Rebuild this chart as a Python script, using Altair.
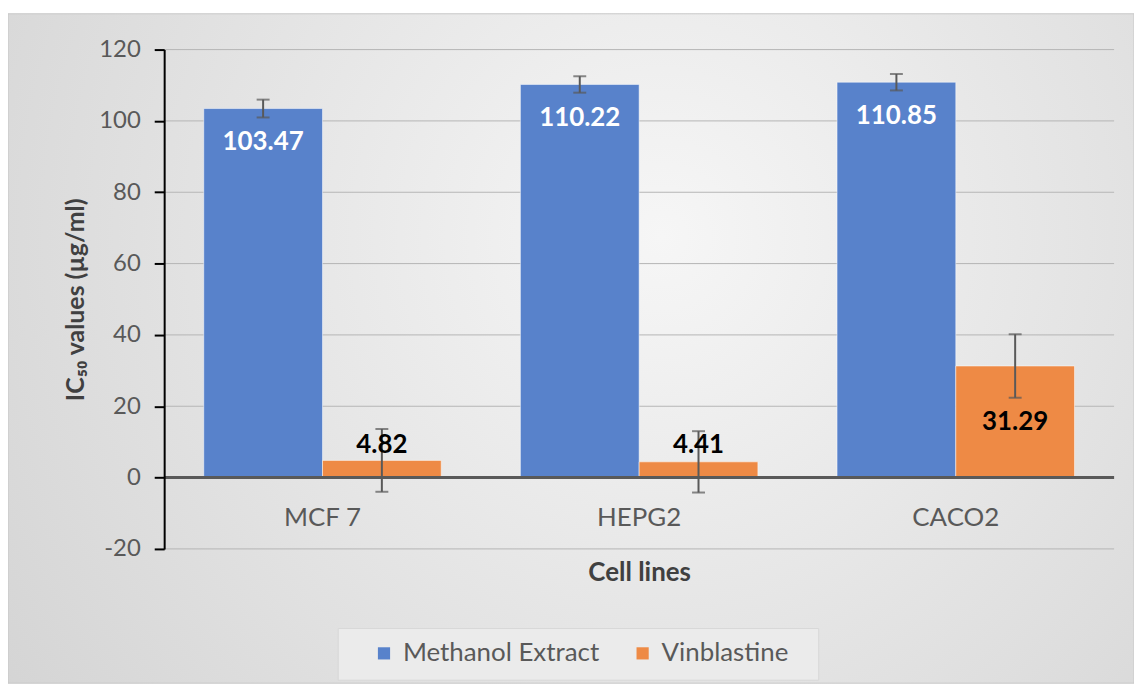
import altair as alt
import pandas as pd

cells = ["MCF 7", "HEPG2", "CACO2"]
series = ["Methanol Extract", "Vinblastine"]
methanol = [103.47, 110.22, 110.85]
methanol_err = [2.5, 2.3, 2.3]
vinblastine = [4.82, 4.41, 31.29]
vinblastine_err = [8.8, 8.6, 8.9]
y_ticks = [-20, 0, 20, 40, 60, 80, 100, 120]

colors = ["#5882CB", "#EE8A45"]

rows = []
for i, c in enumerate(cells):
    rows.append({"cell": c, "series": series[0], "value": methanol[i], "err": methanol_err[i]})
    rows.append({"cell": c, "series": series[1], "value": vinblastine[i], "err": vinblastine_err[i]})
df = pd.DataFrame(rows)
cell_df = pd.DataFrame({"cell": cells})
tick_df = pd.DataFrame({"tick": [t for t in y_ticks if t != 0]})
one = pd.DataFrame({"a": [0]})

W, H = 955, 502
PAD = {"left": 157, "top": 40, "right": 20, "bottom": 135}
FONT = "Lato"
GRAY = "#595959"

x_enc = alt.X(
    "cell:N", sort=cells,
    scale=alt.Scale(paddingInner=0.25, paddingOuter=0.125),
    axis=alt.Axis(labels=False, ticks=False, domain=False, grid=False, zindex=2,
                  title="Cell lines", titleFontSize=26, titleFontWeight="bold",
                  titleColor="#404040", titlePadding=11, titleFont=FONT),
)
xo_enc = alt.XOffset("series:N", sort=series, scale=alt.Scale(paddingInner=0, paddingOuter=0))
y_scale = alt.Scale(domain=[-20, 120], nice=False, zero=False)

bg = alt.Chart(one).mark_rect(
    fill=alt.RadialGradient(
        gradient="radial",
        stops=[alt.GradientStop(offset=0, color="#f6f6f6"),
               alt.GradientStop(offset=1, color="#d0d0d0")],
        x1=0.58, y1=0.4, r1=0, x2=0.58, y2=0.4, r2=0.8),
    stroke="#c8c8c8", strokeWidth=1,
).encode(x=alt.value(-157), x2=alt.value(W + 20), y=alt.value(-36), y2=alt.value(H + 135))

legend_box = alt.Chart(one).mark_rect(fill="#ebebeb", stroke="#d8d8d8", strokeWidth=1).encode(
    x=alt.value(175), x2=alt.value(658), y=alt.value(582), y2=alt.value(634))

grid = alt.Chart(tick_df).mark_rule(color="#b5b5b5", strokeWidth=1).encode(
    y=alt.Y("tick:Q", scale=y_scale))

base = alt.Chart(df)

bars = base.mark_bar(stroke="#ffffff", strokeWidth=1, strokeOpacity=0.5).encode(
    x=x_enc,
    xOffset=xo_enc,
    y=alt.Y("value:Q", scale=y_scale,
            axis=alt.Axis(values=y_ticks, title="IC₅₀ values (µg/ml)", zindex=2,
                          labelExpr="replace(datum.label, '\u2212', '-')",
                          titleFontSize=25, titleFontWeight="bold", titleColor="#404040",
                          titleFont=FONT, titlePadding=10,
                          labelFontSize=24, labelColor=GRAY, labelFont=FONT, labelPadding=14,
                          tickSize=10, tickColor="#000000", tickWidth=2,
                          domainColor="#000000", domainWidth=2, grid=False)),
    y2=alt.datum(0),
    color=alt.Color("series:N", sort=series,
                    scale=alt.Scale(domain=series, range=colors),
                    legend=alt.Legend(orient="none", legendX=208, legendY=594,
                                      direction="horizontal", title=None,
                                      labelFontSize=26, labelColor=GRAY, labelFont=FONT,
                                      labelLimit=400,
                                      symbolType="square", symbolSize=150,
                                      symbolStrokeWidth=0, columnPadding=30,
                                      labelOffset=6, padding=0)),
)

zero_line = alt.Chart(one).mark_rule(color=GRAY, strokeWidth=3).encode(y=alt.datum(0))

err_rule = base.transform_calculate(
    lo="datum.value - datum.err", hi="datum.value + datum.err"
).mark_rule(color=GRAY, strokeWidth=2).encode(
    x=x_enc, xOffset=xo_enc, y=alt.Y("lo:Q", scale=y_scale), y2="hi:Q")

err_top = base.transform_calculate(hi="datum.value + datum.err").mark_tick(
    color=GRAY, thickness=2, size=13).encode(
    x=x_enc, xOffset=xo_enc, y=alt.Y("hi:Q", scale=y_scale))
err_bot = base.transform_calculate(lo="datum.value - datum.err").mark_tick(
    color=GRAY, thickness=2, size=13).encode(
    x=x_enc, xOffset=xo_enc, y=alt.Y("lo:Q", scale=y_scale))

lbl_blue = base.transform_filter(alt.datum.series == series[0]).mark_text(
    color="white", fontWeight="bold", fontSize=26, font=FONT, dy=34, baseline="middle"
).encode(x=x_enc, xOffset=xo_enc, y=alt.Y("value:Q", scale=y_scale),
         text=alt.Text("value:Q", format=".2f"))

lbl_orange = base.transform_filter(alt.datum.series == series[1]).transform_calculate(
    ypos="datum.value < 10 ? 9 : datum.value / 2"
).mark_text(color="black", fontWeight="bold", fontSize=26, font=FONT, baseline="middle"
).encode(x=x_enc, xOffset=xo_enc, y=alt.Y("ypos:Q", scale=y_scale),
         text=alt.Text("value:Q", format=".2f"))

cat_labels = alt.Chart(cell_df).mark_text(
    color=GRAY, fontSize=26, font=FONT, baseline="middle"
).encode(x=x_enc, y=alt.datum(-11.4), text="cell:N")

chart = alt.layer(
    bg, legend_box, grid, bars, zero_line, err_rule, err_top, err_bot,
    lbl_blue, lbl_orange, cat_labels
).properties(
    width=W, height=H,
    autosize=alt.AutoSizeParams(type="none"),
    padding=PAD,
).configure_view(stroke=None).configure(font=FONT)

chart.save("out.html", embed_options={"renderer": "svg", "actions": False})
